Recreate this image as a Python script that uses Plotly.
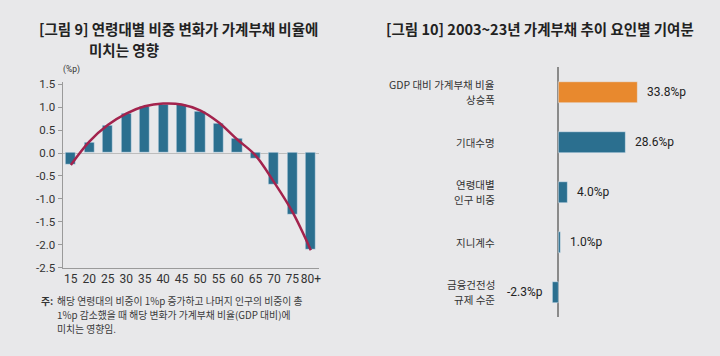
import plotly.graph_objects as go

W, H = 720, 356

# ---- data: left chart (그림 9) ----
age_groups = ["15", "20", "25", "30", "35", "40", "45", "50", "55", "60", "65", "70", "75", "80+"]
age_effect = [-0.25, 0.22, 0.60, 0.86, 1.02, 1.06, 1.05, 0.91, 0.65, 0.31, -0.13, -0.68, -1.35, -2.10]
trend_curve = [-0.26, 0.25, 0.61, 0.86, 1.02, 1.08, 1.06, 0.93, 0.67, 0.30, -0.05, -0.63, -1.28, -2.12]
y_ticks = [-2.5, -2.0, -1.5, -1.0, -0.5, 0.0, 0.5, 1.0, 1.5]

# ---- data: right chart (그림 10) ----
factors = ["GDP 대비 가계부채 비율<br>상승폭", "기대수명", "연령대별<br>인구 비중", "지니계수", "금융건전성<br>규제 수준"]
contrib = [33.8, 28.6, 4.0, 1.0, -2.3]
factor_colors = ["#e8892e", "#2b6f8f", "#2b6f8f", "#2b6f8f", "#2b6f8f"]

title_left_1 = "[그림 9] 연령대별 비중 변화가 가계부채 비율에"
title_left_2 = "미치는 영향"
title_right = "[그림 10] 2003~23년 가계부채 추이 요인별 기여분"
note_lines = [
    "해당 연령대의 비중이 1%p 증가하고 나머지 인구의 비중이 총",
    "1%p 감소했을 때 해당 변화가 가계부채 비율(GDP 대비)에",
    "미치는 영향임.",
]

BG = "#e8e8ea"
TEAL = "#2b6f8f"
RED = "#a3234d"
FONT = "Noto Sans CJK KR"
NUMFONT = "Liberation Sans Narrow, Roboto"


def px(x):
    return x / W


def py(y):
    return 1 - y / H


fig = go.Figure()

fig.add_trace(go.Bar(
    x=age_groups, y=age_effect, marker_color=TEAL, width=0.55,
    xaxis="x", yaxis="y", showlegend=False,
))
fig.add_trace(go.Scatter(
    x=age_groups, y=trend_curve, mode="lines",
    line=dict(color=RED, width=2.5, shape="spline", smoothing=1.0),
    xaxis="x", yaxis="y", showlegend=False,
))

fig.add_trace(go.Bar(
    y=factors, x=contrib, orientation="h", marker_color=factor_colors, width=0.42,
    xaxis="x2", yaxis="y2", showlegend=False,
))

annotations = []
TSIZE = 14.5
# titles
annotations.append(dict(text="<b>" + title_left_1 + "</b>", x=px(37), y=py(25), xref="paper", yref="paper",
                        xanchor="left", yanchor="middle", showarrow=False,
                        font=dict(family=FONT, size=TSIZE, color="#222")))
annotations.append(dict(text="<b>" + title_left_2 + "</b>", x=px(87), y=py(47), xref="paper", yref="paper",
                        xanchor="left", yanchor="middle", showarrow=False,
                        font=dict(family=FONT, size=TSIZE, color="#222")))
annotations.append(dict(text="<b>" + title_right + "</b>", x=px(385), y=py(25), xref="paper", yref="paper",
                        xanchor="left", yanchor="middle", showarrow=False,
                        font=dict(family=FONT, size=TSIZE, color="#222")))
# unit
annotations.append(dict(text="(%p)", x=px(61), y=py(67.5), xref="paper", yref="paper",
                        xanchor="left", yanchor="middle", showarrow=False,
                        font=dict(family="Roboto", size=8.5, color="#333")))
# note
NOTE_SIZE = 9.8
annotations.append(dict(text="<b>주:</b>", x=px(40), y=py(306.5), xref="paper", yref="paper",
                        xanchor="left", yanchor="middle", showarrow=False, borderpad=0,
                        font=dict(family=FONT, size=NOTE_SIZE, color="#333")))
for i, line in enumerate(note_lines):
    annotations.append(dict(text=line, x=px(56), y=py(306.5 + 14.6 * i), xref="paper", yref="paper",
                            xanchor="left", yanchor="middle", showarrow=False, borderpad=0,
                            font=dict(family=FONT, size=NOTE_SIZE, color="#3a3a3a")))
# category labels right chart (one annotation per line)
LINE_GAP = 15
for f in factors:
    parts = f.split("<br>")
    n = len(parts)
    for j, part in enumerate(parts):
        annotations.append(dict(text=part, x=px(497), y=f, xref="paper", yref="y2",
                                xanchor="right", yanchor="middle", showarrow=False, borderpad=0,
                                yshift=((n - 1) / 2 - j) * LINE_GAP,
                                font=dict(family=FONT, size=10.5, color="#333")))
# value labels right chart
for f, v in zip(factors, contrib):
    annotations.append(dict(text=f"{v:.1f}%p", x=v, y=f, xref="x2", yref="y2",
                            xanchor="left" if v >= 0 else "right",
                            xshift=7 if v >= 0 else -8,
                            yanchor="middle", showarrow=False,
                            font=dict(family="Roboto", size=12, color="#222")))

zero_px = 560
scale = 2.36
x2_range = [(503 - zero_px) / scale, (705 - zero_px) / scale]

fig.update_layout(
    width=W, height=H,
    margin=dict(l=0, r=0, t=0, b=0),
    paper_bgcolor=BG, plot_bgcolor=BG,
    bargap=0,
    annotations=annotations,
    xaxis=dict(
        domain=[px(62.7), px(320)], type="category", range=[-0.45, 13.45],
        showline=True, linecolor="#9a9a9a", linewidth=1, ticks="", showgrid=False,
        tickangle=0,
        tickfont=dict(family=NUMFONT, size=12, color="#333"), fixedrange=True,
    ),
    yaxis=dict(
        domain=[py(272), py(80)], range=[-2.5, 1.56],
        tickvals=y_ticks, ticktext=[f"{v:.1f}" for v in y_ticks],
        showline=True, linecolor="#9a9a9a", linewidth=1,
        ticks="outside", ticklen=4, tickcolor="#9a9a9a",
        showgrid=False, zeroline=True, zerolinecolor="#bdbdbd", zerolinewidth=1,
        tickfont=dict(family="Roboto", size=11.5, color="#333"), fixedrange=True,
    ),
    xaxis2=dict(
        domain=[px(503), px(705)], range=x2_range, anchor="y2",
        showticklabels=False, showgrid=False, showline=False,
        zeroline=True, zerolinecolor="#8a8a8a", zerolinewidth=2, fixedrange=True,
    ),
    yaxis2=dict(
        domain=[py(323), py(65)], anchor="x2", type="category",
        categoryorder="array", categoryarray=factors, range=[4.5, -0.5],
        showgrid=False, showline=False, ticks="", showticklabels=False,
        fixedrange=True,
    ),
)

fig.write_html(
    "out.html",
    config=dict(displayModeBar=False),
    post_script="document.body.style.margin='0';document.body.style.overflow='hidden';",
)
